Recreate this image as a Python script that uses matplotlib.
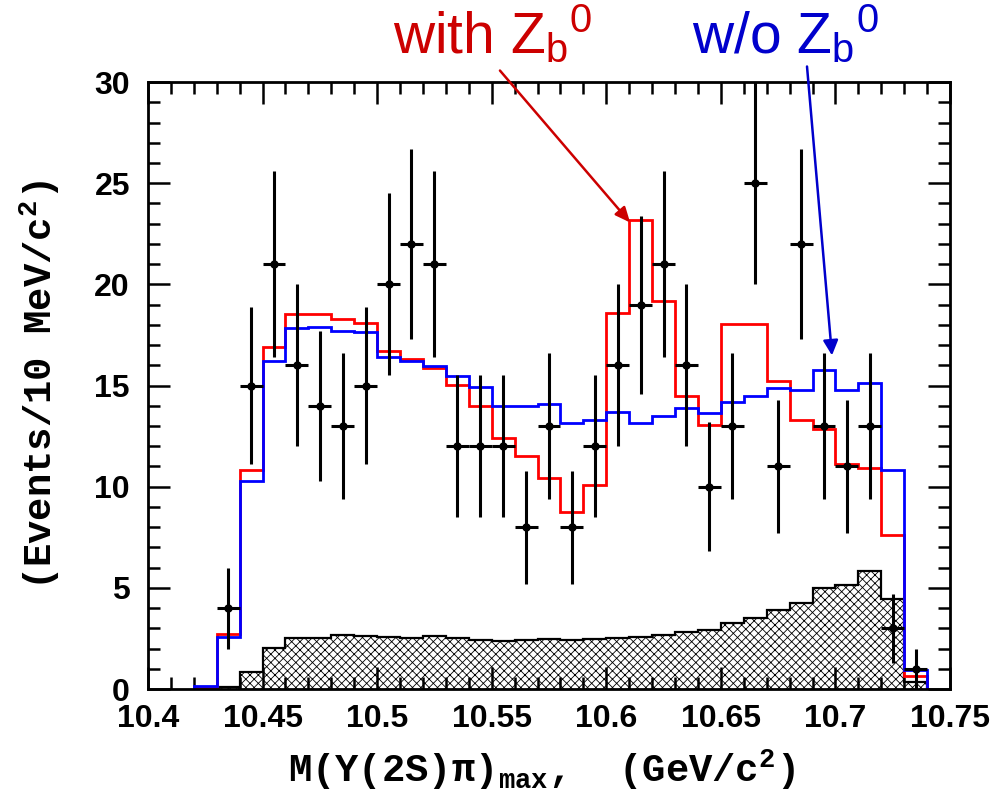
import numpy as np
import matplotlib
matplotlib.use('Agg')
import matplotlib.pyplot as plt
from matplotlib.ticker import MultipleLocator, FormatStrFormatter

plt.rcParams['mathtext.fontset'] = 'custom'
plt.rcParams['mathtext.rm'] = 'Liberation Mono:bold'
plt.rcParams['mathtext.it'] = 'Liberation Mono:bold'
plt.rcParams['mathtext.bf'] = 'Liberation Mono:bold'
plt.rcParams['hatch.linewidth'] = 0.6

# ── data ──────────────────────────────────────────────────────────────────────
# bin edges, 10 MeV wide (10.42 ... 10.74)
edges = np.round(np.arange(10.42, 10.7451, 0.01), 2)

# fit with Z_b^0 (red)
with_zb = [0.10, 2.70, 10.85, 16.93, 18.52, 18.52, 18.27, 18.10, 16.72, 16.30,
           15.85, 15.05, 14.00, 12.43, 11.54, 10.44, 8.74, 10.10, 18.60, 23.20,
           19.20, 14.46, 13.07, 18.06, 18.06, 15.23, 13.30, 12.85, 11.10, 10.93,
           7.59, 0.66]
# fit without Z_b^0 (blue)
without_zb = [0.15, 2.57, 10.28, 16.19, 17.85, 17.88, 17.72, 17.64, 16.40, 16.19,
              15.96, 15.47, 14.95, 14.00, 14.00, 14.10, 13.16, 13.30, 13.70, 13.16,
              13.50, 13.90, 13.64, 14.17, 14.50, 14.86, 14.80, 15.78, 14.80, 15.14,
              10.84, 0.93]
# background (hatched)
background = [0.00, 0.12, 0.85, 2.03, 2.52, 2.52, 2.65, 2.61, 2.56, 2.54,
              2.60, 2.50, 2.43, 2.36, 2.43, 2.49, 2.43, 2.49, 2.52, 2.58,
              2.67, 2.80, 2.92, 3.25, 3.53, 3.93, 4.26, 4.99, 5.12, 5.81,
              4.44, 0.37]

# data points, one per bin from 10.43 to 10.74
counts = [4, 15, 21, 16, 14, 13, 15, 20, 22, 21, 12, 12, 12, 8, 13, 8, 12, 16,
          19, 21, 16, 10, 13, 25, 11, 22, 13, 11, 13, 3, 1]
count_err = [2.0, 3.9, 4.6, 4.0, 3.7, 3.6, 3.9, 4.5, 4.7, 4.6, 3.5, 3.5, 3.5,
             2.8, 3.6, 2.8, 3.5, 4.0, 4.4, 4.6, 4.0, 3.2, 3.6, 5.0, 3.3, 4.7,
             3.6, 3.3, 3.6, 1.7, 1.0]

xticks = [10.4, 10.45, 10.5, 10.55, 10.6, 10.65, 10.7, 10.75]

# ── figure ────────────────────────────────────────────────────────────────────
fig = plt.figure(figsize=(9.93, 7.93), dpi=100, facecolor='white')
ax = fig.add_axes([0.149, 0.1311, 0.8077, 0.7654])

ax.stairs(background, edges, fill=True, facecolor='white', edgecolor='black',
          hatch='xxxx', lw=0, zorder=1)
ax.stairs(background, edges, color='black', lw=1.6, zorder=1.2)

ax.stairs(with_zb, edges, color='#ff0000', lw=2.0, zorder=2)
ax.stairs(without_zb, edges, color='#0000ff', lw=2.0, zorder=2.1)

centers = edges[1:-1] + 0.005
ax.errorbar(centers, counts, yerr=count_err, xerr=0.005, fmt='o', color='black',
            ms=5, elinewidth=2.2, capsize=0, zorder=3)

# ── axes style ────────────────────────────────────────────────────────────────
ax.set_xlim(10.4, 10.75)
ax.set_ylim(0, 30)
ax.set_xticks(xticks)
ax.xaxis.set_major_formatter(FormatStrFormatter('%g'))
ax.xaxis.set_minor_locator(MultipleLocator(0.01))
ax.yaxis.set_major_locator(MultipleLocator(5))
ax.yaxis.set_minor_locator(MultipleLocator(1))
ax.tick_params(which='both', direction='in', top=True, right=True, width=1.8,
               labelsize=23)
ax.tick_params(which='major', length=16)
ax.tick_params(which='minor', length=8.5)
ax.tick_params(axis='x', pad=11)
ax.tick_params(axis='y', pad=13)
for lab in ax.get_xticklabels() + ax.get_yticklabels():
    lab.set_fontfamily('Liberation Sans')
    lab.set_fontweight('bold')
for sp in ax.spines.values():
    sp.set_linewidth(2.0)

ax.set_xlabel(r'M(Y(2S)π)$_{\rm max}$,  (GeV/c$^{\rm 2}$)',
              family='Liberation Mono', fontweight='bold', fontsize=28)
ax.xaxis.set_label_coords(0.49, -0.095)
ax.set_ylabel(r'(Events/10 MeV/c$^{\rm 2}$)',
              family='Liberation Mono', fontweight='bold', fontsize=28)
ax.yaxis.set_label_coords(-0.107, 0.5)

# ── annotations ───────────────────────────────────────────────────────────────
fig.text(393 / 993, 1 - 53 / 793, r'with Z$_\mathregular{b}{}^\mathregular{0}$',
         color='#cc0000', fontsize=41, family='Liberation Sans',
         ha='left', va='baseline')
fig.text(692 / 993, 1 - 53 / 793, r'w/o Z$_\mathregular{b}{}^\mathregular{0}$',
         color='#0000cc', fontsize=41, family='Liberation Sans',
         ha='left', va='baseline')

ax.annotate('', xy=(10.6104, 23.06), xytext=(10.5536, 30.57),
            arrowprops=dict(arrowstyle='-|>,head_length=0.9,head_width=0.4',
                            color='#cc0000', lw=1.8, shrinkA=0, shrinkB=0),
            annotation_clip=False)
ax.annotate('', xy=(10.6985, 16.49), xytext=(10.6876, 30.77),
            arrowprops=dict(arrowstyle='-|>,head_length=0.9,head_width=0.45',
                            color='#0000cc', lw=1.8, shrinkA=0, shrinkB=0),
            annotation_clip=False)

fig.savefig('out.png', dpi=100, facecolor='white')
